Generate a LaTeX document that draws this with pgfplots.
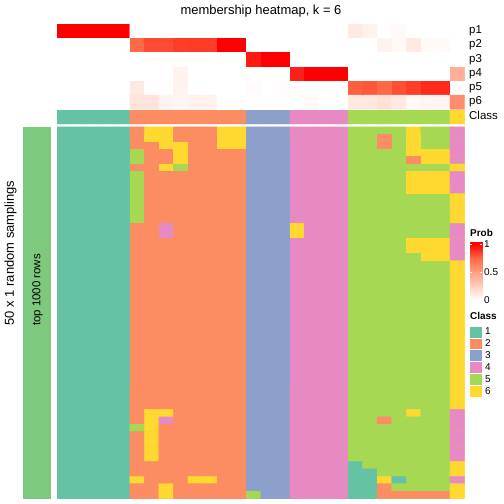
\documentclass[border=0pt]{standalone}
\usepackage{fontspec}
\setmainfont{Liberation Sans}
\usepackage{pgfplots}
\pgfplotsset{compat=1.18}
\definecolor{c1}{RGB}{102,194,165}
\definecolor{c2}{RGB}{252,141,98}
\definecolor{c3}{RGB}{141,160,203}
\definecolor{c4}{RGB}{231,138,195}
\definecolor{c5}{RGB}{166,216,84}
\definecolor{c6}{RGB}{255,217,47}
\definecolor{pred}{RGB}{255,0,0}
\definecolor{barg}{RGB}{127,201,127}
\pgfplotsset{
 colormap={cls}{rgb255(0cm)=(102,194,165) rgb255(1cm)=(252,141,98) rgb255(2cm)=(141,160,203) rgb255(3cm)=(231,138,195) rgb255(4cm)=(166,216,84) rgb255(5cm)=(255,217,47)},
 colormap={prob}{rgb255(0cm)=(255,255,255) rgb255(1cm)=(255,207,191) rgb255(2cm)=(255,158,129) rgb255(3cm)=(255,103,70) rgb255(4cm)=(255,0,0)},
 hm/.style={scale only axis, hide axis, anchor=north west, xmin=0.5, xmax=28.5},
}
\begin{document}
\begin{tikzpicture}
\path (0,0) rectangle (504bp,-504bp);
% ---------- probability rows p1..p6
\begin{axis}[hm, at={(57bp,-24bp)}, width=407.5bp, height=85.3bp, ymin=-6.5, ymax=-0.5,
  colormap name=prob, point meta min=0, point meta max=1]
\addplot[fill=pred, draw=none] coordinates {(0.5,-1.5) (5.5,-1.5) (5.5,-0.5) (0.5,-0.5)};
\addplot[fill=pred, draw=none] coordinates {(11.5,-2.5) (13.5,-2.5) (13.5,-1.5) (11.5,-1.5)};
\addplot[fill=pred, draw=none] coordinates {(14.5,-3.5) (16.5,-3.5) (16.5,-2.5) (14.5,-2.5)};
\addplot[fill=pred, draw=none] coordinates {(17.5,-4.5) (20.5,-4.5) (20.5,-3.5) (17.5,-3.5)};
\addplot[matrix plot*, mesh/cols=28, point meta=explicit, shader=faceted, faceted color=mapped color, line width=0.3bp]
 table[header=false, row sep=\\, meta index=0,
   x expr={\coordindex-28*floor((\coordindex+0.5)/28)+1},
   y expr={-floor((\coordindex+0.5)/28)-1}] {
1\\ 1\\ 1\\ 1\\ 1\\ 0\\ 0\\ 0\\ 0\\ 0\\ 0\\ 0\\ 0\\ 0\\ 0\\ 0\\ 0\\ 0\\ 0\\ 0\\ 0.11\\ 0.07\\ 0\\ 0.03\\ 0\\ 0\\ 0\\ 0\\
0\\ 0\\ 0\\ 0\\ 0\\ 0.74\\ 0.82\\ 0.82\\ 0.85\\ 0.86\\ 0.86\\ 1\\ 1\\ 0\\ 0\\ 0\\ 0\\ 0\\ 0\\ 0\\ 0\\ 0\\ 0.06\\ 0.03\\ 0.11\\ 0.03\\ 0.03\\ 0\\
0\\ 0\\ 0\\ 0\\ 0\\ 0\\ 0\\ 0\\ 0\\ 0\\ 0\\ 0\\ 0\\ 0.94\\ 1\\ 1\\ 0\\ 0\\ 0\\ 0\\ 0\\ 0\\ 0\\ 0\\ 0\\ 0\\ 0\\ 0\\
0\\ 0\\ 0\\ 0\\ 0\\ 0\\ 0\\ 0\\ 0.06\\ 0\\ 0\\ 0\\ 0\\ 0\\ 0\\ 0\\ 0.92\\ 1\\ 1\\ 1\\ 0\\ 0\\ 0\\ 0\\ 0\\ 0\\ 0\\ 0.42\\
0\\ 0\\ 0\\ 0\\ 0\\ 0.12\\ 0\\ 0\\ 0.06\\ 0\\ 0\\ 0\\ 0\\ 0.02\\ 0\\ 0.01\\ 0\\ 0\\ 0\\ 0\\ 0.77\\ 0.79\\ 0.74\\ 0.81\\ 0.85\\ 0.9\\ 0.9\\ 0\\
0\\ 0\\ 0\\ 0\\ 0\\ 0.14\\ 0.14\\ 0.06\\ 0.05\\ 0.07\\ 0.07\\ 0\\ 0\\ 0\\ 0\\ 0\\ 0\\ 0.03\\ 0\\ 0\\ 0.12\\ 0.12\\ 0.16\\ 0.11\\ 0.03\\ 0.05\\ 0.05\\ 0.58\\
};
\end{axis}
% ---------- class annotation row
\begin{axis}[hm, at={(57bp,-110bp)}, width=407.5bp, height=14bp, ymin=-2.5, ymax=-0.5,
  colormap name=cls, point meta min=1, point meta max=6]
\addplot[fill=c1, draw=none] coordinates {(0.5,-2.5) (5.5,-2.5) (5.5,-0.5) (0.5,-0.5)};
\addplot[fill=c2, draw=none] coordinates {(5.5,-2.5) (13.5,-2.5) (13.5,-0.5) (5.5,-0.5)};
\addplot[fill=c3, draw=none] coordinates {(13.5,-2.5) (16.5,-2.5) (16.5,-0.5) (13.5,-0.5)};
\addplot[fill=c4, draw=none] coordinates {(16.5,-2.5) (20.5,-2.5) (20.5,-0.5) (16.5,-0.5)};
\addplot[fill=c5, draw=none] coordinates {(20.5,-2.5) (27.5,-2.5) (27.5,-0.5) (20.5,-0.5)};
\addplot[fill=c6, draw=none] coordinates {(27.5,-2.5) (28.5,-2.5) (28.5,-0.5) (27.5,-0.5)};
\addplot[matrix plot*, mesh/cols=28, point meta=explicit, shader=faceted, faceted color=mapped color, line width=0.3bp]
 table[header=false, row sep=\\, meta index=0,
   x expr={\coordindex-28*floor((\coordindex+0.5)/28)+1},
   y expr={-floor((\coordindex+0.5)/28)-1}] {
1\\ 1\\ 1\\ 1\\ 1\\ 2\\ 2\\ 2\\ 2\\ 2\\ 2\\ 2\\ 2\\ 3\\ 3\\ 3\\ 4\\ 4\\ 4\\ 4\\ 5\\ 5\\ 5\\ 5\\ 5\\ 5\\ 5\\ 6\\
1\\ 1\\ 1\\ 1\\ 1\\ 2\\ 2\\ 2\\ 2\\ 2\\ 2\\ 2\\ 2\\ 3\\ 3\\ 3\\ 4\\ 4\\ 4\\ 4\\ 5\\ 5\\ 5\\ 5\\ 5\\ 5\\ 5\\ 6\\
};
\end{axis}
% ---------- membership body: 50 samplings x 28 samples
\begin{axis}[hm, at={(57bp,-126.8bp)}, width=407.5bp, height=371.8bp, ymin=-50.5, ymax=-0.5,
  colormap name=cls, point meta min=1, point meta max=6]
\addplot[fill=c1, draw=none] coordinates {(0.5,-50.5) (5.5,-50.5) (5.5,-0.5) (0.5,-0.5)};
\addplot[fill=c2, draw=none] coordinates {(5.5,-50.5) (13.5,-50.5) (13.5,-0.5) (5.5,-0.5)};
\addplot[fill=c3, draw=none] coordinates {(13.5,-50.5) (16.5,-50.5) (16.5,-0.5) (13.5,-0.5)};
\addplot[fill=c4, draw=none] coordinates {(16.5,-50.5) (20.5,-50.5) (20.5,-0.5) (16.5,-0.5)};
\addplot[fill=c5, draw=none] coordinates {(20.5,-50.5) (27.5,-50.5) (27.5,-0.5) (20.5,-0.5)};
\addplot[fill=c6, draw=none] coordinates {(27.5,-50.5) (28.5,-50.5) (28.5,-0.5) (27.5,-0.5)};
\addplot[matrix plot*, mesh/cols=28, point meta=explicit, shader=faceted, faceted color=mapped color, line width=0.3bp]
 table[header=false, row sep=\\, meta index=0,
   x expr={\coordindex-28*floor((\coordindex+0.5)/28)+1},
   y expr={-floor((\coordindex+0.5)/28)-1}] {
1\\ 1\\ 1\\ 1\\ 1\\ 2\\ 6\\ 6\\ 2\\ 2\\ 2\\ 6\\ 6\\ 3\\ 3\\ 3\\ 4\\ 4\\ 4\\ 4\\ 5\\ 5\\ 5\\ 5\\ 6\\ 5\\ 5\\ 4\\
1\\ 1\\ 1\\ 1\\ 1\\ 2\\ 6\\ 6\\ 2\\ 2\\ 2\\ 6\\ 6\\ 3\\ 3\\ 3\\ 4\\ 4\\ 4\\ 4\\ 5\\ 5\\ 2\\ 5\\ 6\\ 5\\ 5\\ 4\\
1\\ 1\\ 1\\ 1\\ 1\\ 2\\ 2\\ 6\\ 6\\ 2\\ 2\\ 6\\ 6\\ 3\\ 3\\ 3\\ 4\\ 4\\ 4\\ 4\\ 5\\ 5\\ 2\\ 5\\ 6\\ 5\\ 5\\ 4\\
1\\ 1\\ 1\\ 1\\ 1\\ 5\\ 2\\ 2\\ 6\\ 2\\ 2\\ 2\\ 2\\ 3\\ 3\\ 3\\ 4\\ 4\\ 4\\ 4\\ 5\\ 5\\ 5\\ 5\\ 6\\ 6\\ 6\\ 4\\
1\\ 1\\ 1\\ 1\\ 1\\ 5\\ 2\\ 2\\ 6\\ 2\\ 2\\ 2\\ 2\\ 3\\ 3\\ 3\\ 4\\ 4\\ 4\\ 4\\ 5\\ 5\\ 5\\ 5\\ 2\\ 6\\ 6\\ 4\\
1\\ 1\\ 1\\ 1\\ 1\\ 2\\ 2\\ 6\\ 5\\ 2\\ 2\\ 2\\ 2\\ 3\\ 3\\ 3\\ 4\\ 4\\ 4\\ 4\\ 5\\ 5\\ 5\\ 5\\ 5\\ 5\\ 5\\ 6\\
1\\ 1\\ 1\\ 1\\ 1\\ 5\\ 2\\ 2\\ 2\\ 2\\ 2\\ 2\\ 2\\ 3\\ 3\\ 3\\ 4\\ 4\\ 4\\ 4\\ 5\\ 5\\ 5\\ 5\\ 6\\ 6\\ 6\\ 4\\
1\\ 1\\ 1\\ 1\\ 1\\ 5\\ 2\\ 2\\ 2\\ 2\\ 2\\ 2\\ 2\\ 3\\ 3\\ 3\\ 4\\ 4\\ 4\\ 4\\ 5\\ 5\\ 5\\ 5\\ 6\\ 6\\ 6\\ 4\\
1\\ 1\\ 1\\ 1\\ 1\\ 5\\ 2\\ 2\\ 2\\ 2\\ 2\\ 2\\ 2\\ 3\\ 3\\ 3\\ 4\\ 4\\ 4\\ 4\\ 5\\ 5\\ 5\\ 5\\ 6\\ 6\\ 6\\ 4\\
1\\ 1\\ 1\\ 1\\ 1\\ 5\\ 2\\ 2\\ 2\\ 2\\ 2\\ 2\\ 2\\ 3\\ 3\\ 3\\ 4\\ 4\\ 4\\ 4\\ 5\\ 5\\ 5\\ 5\\ 5\\ 5\\ 5\\ 6\\
1\\ 1\\ 1\\ 1\\ 1\\ 5\\ 2\\ 2\\ 2\\ 2\\ 2\\ 2\\ 2\\ 3\\ 3\\ 3\\ 4\\ 4\\ 4\\ 4\\ 5\\ 5\\ 5\\ 5\\ 5\\ 5\\ 5\\ 6\\
1\\ 1\\ 1\\ 1\\ 1\\ 5\\ 2\\ 2\\ 2\\ 2\\ 2\\ 2\\ 2\\ 3\\ 3\\ 3\\ 4\\ 4\\ 4\\ 4\\ 5\\ 5\\ 5\\ 5\\ 5\\ 5\\ 5\\ 6\\
1\\ 1\\ 1\\ 1\\ 1\\ 5\\ 2\\ 2\\ 2\\ 2\\ 2\\ 2\\ 2\\ 3\\ 3\\ 3\\ 4\\ 4\\ 4\\ 4\\ 5\\ 5\\ 5\\ 5\\ 5\\ 5\\ 5\\ 6\\
1\\ 1\\ 1\\ 1\\ 1\\ 2\\ 2\\ 4\\ 2\\ 2\\ 2\\ 2\\ 2\\ 3\\ 3\\ 3\\ 6\\ 4\\ 4\\ 4\\ 5\\ 5\\ 5\\ 5\\ 5\\ 5\\ 5\\ 4\\
1\\ 1\\ 1\\ 1\\ 1\\ 2\\ 2\\ 4\\ 2\\ 2\\ 2\\ 2\\ 2\\ 3\\ 3\\ 3\\ 6\\ 4\\ 4\\ 4\\ 5\\ 5\\ 5\\ 5\\ 5\\ 5\\ 5\\ 4\\
1\\ 1\\ 1\\ 1\\ 1\\ 2\\ 2\\ 2\\ 2\\ 2\\ 2\\ 2\\ 2\\ 3\\ 3\\ 3\\ 4\\ 4\\ 4\\ 4\\ 5\\ 5\\ 5\\ 5\\ 6\\ 6\\ 6\\ 4\\
1\\ 1\\ 1\\ 1\\ 1\\ 2\\ 2\\ 2\\ 2\\ 2\\ 2\\ 2\\ 2\\ 3\\ 3\\ 3\\ 4\\ 4\\ 4\\ 4\\ 5\\ 5\\ 5\\ 5\\ 6\\ 6\\ 6\\ 4\\
1\\ 1\\ 1\\ 1\\ 1\\ 2\\ 2\\ 2\\ 2\\ 2\\ 2\\ 2\\ 2\\ 3\\ 3\\ 3\\ 4\\ 4\\ 4\\ 4\\ 5\\ 5\\ 5\\ 5\\ 5\\ 6\\ 6\\ 4\\
1\\ 1\\ 1\\ 1\\ 1\\ 2\\ 2\\ 2\\ 2\\ 2\\ 2\\ 2\\ 2\\ 3\\ 3\\ 3\\ 4\\ 4\\ 4\\ 4\\ 5\\ 5\\ 5\\ 5\\ 5\\ 5\\ 5\\ 6\\
1\\ 1\\ 1\\ 1\\ 1\\ 2\\ 2\\ 2\\ 2\\ 2\\ 2\\ 2\\ 2\\ 3\\ 3\\ 3\\ 4\\ 4\\ 4\\ 4\\ 5\\ 5\\ 5\\ 5\\ 5\\ 5\\ 5\\ 6\\
1\\ 1\\ 1\\ 1\\ 1\\ 2\\ 2\\ 2\\ 2\\ 2\\ 2\\ 2\\ 2\\ 3\\ 3\\ 3\\ 4\\ 4\\ 4\\ 4\\ 5\\ 5\\ 5\\ 5\\ 5\\ 5\\ 5\\ 6\\
1\\ 1\\ 1\\ 1\\ 1\\ 2\\ 2\\ 2\\ 2\\ 2\\ 2\\ 2\\ 2\\ 3\\ 3\\ 3\\ 4\\ 4\\ 4\\ 4\\ 5\\ 5\\ 5\\ 5\\ 5\\ 5\\ 5\\ 6\\
1\\ 1\\ 1\\ 1\\ 1\\ 2\\ 2\\ 2\\ 2\\ 2\\ 2\\ 2\\ 2\\ 3\\ 3\\ 3\\ 4\\ 4\\ 4\\ 4\\ 5\\ 5\\ 5\\ 5\\ 5\\ 5\\ 5\\ 6\\
1\\ 1\\ 1\\ 1\\ 1\\ 2\\ 2\\ 2\\ 2\\ 2\\ 2\\ 2\\ 2\\ 3\\ 3\\ 3\\ 4\\ 4\\ 4\\ 4\\ 5\\ 5\\ 5\\ 5\\ 5\\ 5\\ 5\\ 6\\
1\\ 1\\ 1\\ 1\\ 1\\ 2\\ 2\\ 2\\ 2\\ 2\\ 2\\ 2\\ 2\\ 3\\ 3\\ 3\\ 4\\ 4\\ 4\\ 4\\ 5\\ 5\\ 5\\ 5\\ 5\\ 5\\ 5\\ 6\\
1\\ 1\\ 1\\ 1\\ 1\\ 2\\ 2\\ 2\\ 2\\ 2\\ 2\\ 2\\ 2\\ 3\\ 3\\ 3\\ 4\\ 4\\ 4\\ 4\\ 5\\ 5\\ 5\\ 5\\ 5\\ 5\\ 5\\ 6\\
1\\ 1\\ 1\\ 1\\ 1\\ 2\\ 2\\ 2\\ 2\\ 2\\ 2\\ 2\\ 2\\ 3\\ 3\\ 3\\ 4\\ 4\\ 4\\ 4\\ 5\\ 5\\ 5\\ 5\\ 5\\ 5\\ 5\\ 6\\
1\\ 1\\ 1\\ 1\\ 1\\ 2\\ 2\\ 2\\ 2\\ 2\\ 2\\ 2\\ 2\\ 3\\ 3\\ 3\\ 4\\ 4\\ 4\\ 4\\ 5\\ 5\\ 5\\ 5\\ 5\\ 5\\ 5\\ 6\\
1\\ 1\\ 1\\ 1\\ 1\\ 2\\ 2\\ 2\\ 2\\ 2\\ 2\\ 2\\ 2\\ 3\\ 3\\ 3\\ 4\\ 4\\ 4\\ 4\\ 5\\ 5\\ 5\\ 5\\ 5\\ 5\\ 5\\ 6\\
1\\ 1\\ 1\\ 1\\ 1\\ 2\\ 2\\ 2\\ 2\\ 2\\ 2\\ 2\\ 2\\ 3\\ 3\\ 3\\ 4\\ 4\\ 4\\ 4\\ 5\\ 5\\ 5\\ 5\\ 5\\ 5\\ 5\\ 6\\
1\\ 1\\ 1\\ 1\\ 1\\ 2\\ 2\\ 2\\ 2\\ 2\\ 2\\ 2\\ 2\\ 3\\ 3\\ 3\\ 4\\ 4\\ 4\\ 4\\ 5\\ 5\\ 5\\ 5\\ 5\\ 5\\ 5\\ 6\\
1\\ 1\\ 1\\ 1\\ 1\\ 2\\ 2\\ 2\\ 2\\ 2\\ 2\\ 2\\ 2\\ 3\\ 3\\ 3\\ 4\\ 4\\ 4\\ 4\\ 5\\ 5\\ 5\\ 5\\ 5\\ 5\\ 5\\ 6\\
1\\ 1\\ 1\\ 1\\ 1\\ 2\\ 2\\ 2\\ 2\\ 2\\ 2\\ 2\\ 2\\ 3\\ 3\\ 3\\ 4\\ 4\\ 4\\ 4\\ 5\\ 5\\ 5\\ 5\\ 5\\ 5\\ 5\\ 6\\
1\\ 1\\ 1\\ 1\\ 1\\ 2\\ 2\\ 2\\ 2\\ 2\\ 2\\ 2\\ 2\\ 3\\ 3\\ 3\\ 4\\ 4\\ 4\\ 4\\ 5\\ 5\\ 5\\ 5\\ 5\\ 5\\ 5\\ 6\\
1\\ 1\\ 1\\ 1\\ 1\\ 2\\ 2\\ 2\\ 2\\ 2\\ 2\\ 2\\ 2\\ 3\\ 3\\ 3\\ 4\\ 4\\ 4\\ 4\\ 5\\ 5\\ 5\\ 5\\ 5\\ 5\\ 5\\ 6\\
1\\ 1\\ 1\\ 1\\ 1\\ 2\\ 2\\ 2\\ 2\\ 2\\ 2\\ 2\\ 2\\ 3\\ 3\\ 3\\ 4\\ 4\\ 4\\ 4\\ 5\\ 5\\ 5\\ 5\\ 5\\ 5\\ 5\\ 6\\
1\\ 1\\ 1\\ 1\\ 1\\ 2\\ 2\\ 2\\ 2\\ 2\\ 2\\ 2\\ 2\\ 3\\ 3\\ 3\\ 4\\ 4\\ 4\\ 4\\ 5\\ 5\\ 5\\ 5\\ 5\\ 5\\ 5\\ 6\\
1\\ 1\\ 1\\ 1\\ 1\\ 2\\ 2\\ 2\\ 2\\ 2\\ 2\\ 2\\ 2\\ 3\\ 3\\ 3\\ 4\\ 4\\ 4\\ 4\\ 5\\ 5\\ 5\\ 5\\ 5\\ 5\\ 5\\ 6\\
1\\ 1\\ 1\\ 1\\ 1\\ 2\\ 6\\ 6\\ 2\\ 2\\ 2\\ 2\\ 2\\ 3\\ 3\\ 3\\ 4\\ 4\\ 4\\ 4\\ 5\\ 5\\ 5\\ 5\\ 6\\ 5\\ 5\\ 4\\
1\\ 1\\ 1\\ 1\\ 1\\ 2\\ 6\\ 4\\ 2\\ 2\\ 2\\ 2\\ 2\\ 3\\ 3\\ 3\\ 4\\ 4\\ 4\\ 4\\ 5\\ 5\\ 2\\ 5\\ 5\\ 5\\ 5\\ 4\\
1\\ 1\\ 1\\ 1\\ 1\\ 5\\ 6\\ 2\\ 2\\ 2\\ 2\\ 2\\ 2\\ 3\\ 3\\ 3\\ 4\\ 4\\ 4\\ 4\\ 5\\ 5\\ 5\\ 5\\ 5\\ 5\\ 5\\ 4\\
1\\ 1\\ 1\\ 1\\ 1\\ 2\\ 6\\ 2\\ 2\\ 2\\ 2\\ 2\\ 2\\ 3\\ 3\\ 3\\ 4\\ 4\\ 4\\ 4\\ 5\\ 5\\ 5\\ 5\\ 5\\ 5\\ 5\\ 4\\
1\\ 1\\ 1\\ 1\\ 1\\ 2\\ 6\\ 2\\ 2\\ 2\\ 2\\ 2\\ 2\\ 3\\ 3\\ 3\\ 4\\ 4\\ 4\\ 4\\ 5\\ 5\\ 5\\ 5\\ 5\\ 5\\ 5\\ 4\\
1\\ 1\\ 1\\ 1\\ 1\\ 2\\ 6\\ 2\\ 2\\ 2\\ 2\\ 2\\ 2\\ 3\\ 3\\ 3\\ 4\\ 4\\ 4\\ 4\\ 5\\ 5\\ 5\\ 5\\ 5\\ 5\\ 5\\ 4\\
1\\ 1\\ 1\\ 1\\ 1\\ 2\\ 6\\ 2\\ 2\\ 2\\ 2\\ 2\\ 2\\ 3\\ 3\\ 3\\ 4\\ 4\\ 4\\ 4\\ 5\\ 5\\ 5\\ 5\\ 5\\ 5\\ 5\\ 4\\
1\\ 1\\ 1\\ 1\\ 1\\ 2\\ 2\\ 2\\ 2\\ 2\\ 2\\ 2\\ 2\\ 3\\ 3\\ 3\\ 4\\ 4\\ 4\\ 4\\ 1\\ 5\\ 5\\ 5\\ 5\\ 5\\ 5\\ 6\\
1\\ 1\\ 1\\ 1\\ 1\\ 2\\ 2\\ 2\\ 2\\ 2\\ 2\\ 2\\ 2\\ 3\\ 3\\ 3\\ 4\\ 4\\ 4\\ 4\\ 1\\ 1\\ 5\\ 5\\ 5\\ 5\\ 5\\ 6\\
1\\ 1\\ 1\\ 1\\ 1\\ 6\\ 2\\ 2\\ 2\\ 6\\ 6\\ 2\\ 2\\ 3\\ 3\\ 3\\ 4\\ 4\\ 4\\ 4\\ 1\\ 1\\ 6\\ 1\\ 5\\ 5\\ 5\\ 4\\
1\\ 1\\ 1\\ 1\\ 1\\ 2\\ 2\\ 6\\ 2\\ 2\\ 2\\ 2\\ 2\\ 3\\ 3\\ 3\\ 4\\ 4\\ 4\\ 4\\ 1\\ 1\\ 2\\ 5\\ 5\\ 5\\ 5\\ 6\\
1\\ 1\\ 1\\ 1\\ 1\\ 2\\ 2\\ 6\\ 2\\ 2\\ 2\\ 2\\ 2\\ 5\\ 3\\ 3\\ 4\\ 4\\ 4\\ 4\\ 1\\ 1\\ 2\\ 2\\ 2\\ 2\\ 2\\ 6\\
};
\end{axis}
% ---------- Prob legend gradient
\begin{axis}[scale only axis, anchor=north west, at={(470bp,-241.7bp)}, width=12bp, height=58.3bp,
  xmin=0, xmax=1, ymin=0, ymax=1.04, colormap name=prob, point meta min=0, point meta max=1,
  axis line style={draw=none}, xtick=\empty, ytick={0,0.5,1}, yticklabels={0,0.5,1},
  yticklabel pos=right, tick align=inside, major tick length=2bp, axis on top,
  tick style={white, line width=0.6bp},
  yticklabel style={font=\fontsize{10}{12}\selectfont, inner sep=1bp, xshift=1bp}]
\addplot[surf, shader=interp, mesh/cols=2, point meta=explicit] table[meta=c] {
x y c
0 0 0
1 0 0
0 0.25 0.25
1 0.25 0.25
0 0.5 0.5
1 0.5 0.5
0 0.75 0.75
1 0.75 0.75
0 1 1
1 1 1
0 1.04 1
1 1.04 1
};
\end{axis}
% ---------- left bar and texts
\fill[barg] (23bp,-126.8bp) rectangle (51bp,-498.6bp);
\node[font=\fontsize{11.5}{13}\selectfont, rotate=90, inner sep=0] at (37.5bp,-290bp) {top 1000 rows};
\node[font=\fontsize{13}{15}\selectfont, rotate=90, inner sep=0] at (10.5bp,-253bp) {50 x 1 random samplings};
\node[font=\fontsize{13}{15}\selectfont, anchor=base, inner sep=0] at (261bp,-14.5bp) {membership heatmap, k = 6};
\begin{scope}[every node/.style={font=\fontsize{11.5}{13}\selectfont, anchor=mid west, inner sep=0}]
\node at (469bp,-31.1bp) {p1};
\node at (469bp,-45.3bp) {p2};
\node at (469bp,-59.5bp) {p3};
\node at (469bp,-73.8bp) {p4};
\node at (469bp,-88bp) {p5};
\node at (469bp,-102.2bp) {p6};
\node at (469bp,-117bp) {Class};
\end{scope}
\node[font=\fontsize{10}{12}\selectfont\bfseries, anchor=mid west, inner sep=0] at (470bp,-234bp) {Prob};
\node[font=\fontsize{10}{12}\selectfont\bfseries, anchor=mid west, inner sep=0] at (470bp,-317bp) {Class};
\foreach \k/\c in {0/c1,1/c2,2/c3,3/c4,4/c5,5/c6}{
  \fill[\c] (470bp,{-(326.7+11.85*\k)*1bp}) rectangle (482bp,{-(337.6+11.85*\k)*1bp});
}
\begin{scope}[every node/.style={font=\fontsize{10}{12}\selectfont, anchor=mid west, inner sep=0}]
\node at (485bp,-332.2bp) {1};
\node at (485bp,-344bp) {2};
\node at (485bp,-355.9bp) {3};
\node at (485bp,-367.7bp) {4};
\node at (485bp,-379.6bp) {5};
\node at (485bp,-391.4bp) {6};
\end{scope}
\end{tikzpicture}
\end{document}
